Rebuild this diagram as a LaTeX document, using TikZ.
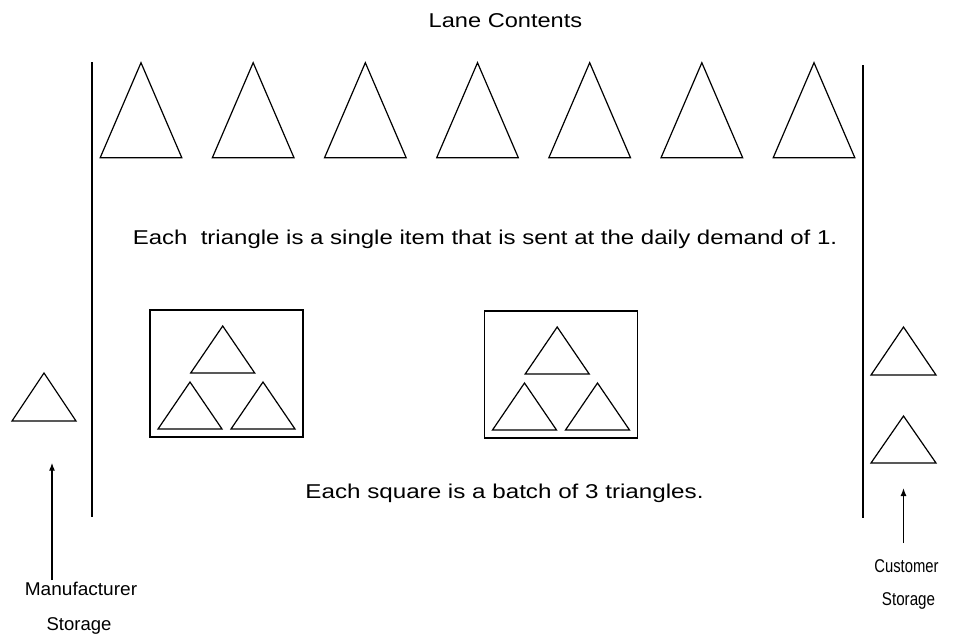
\documentclass[tikz,border=0pt]{standalone}
\usepackage{fontspec}
\setmainfont{Liberation Sans}
\usetikzlibrary{arrows.meta}
\newcommand{\lbl}[2]{\scalebox{#1}[1]{#2}}
\newcommand{\tri}[4]{\draw[shp] (#1-#3,#2+#4) -- (#1,#2) -- (#1+#3,#2+#4) -- cycle;}
\begin{document}
\begin{tikzpicture}[x=1pt,y=-1pt,
  shp/.style={line width=1.2pt,line join=miter},
  lane/.style={line width=1.4pt},
  txt/.style={anchor=base,inner sep=0pt,font=\fontsize{20}{24}\selectfont},
  small/.style={anchor=base,inner sep=0pt,font=\fontsize{18.5}{22}\selectfont},
  arr/.style={line width=1.2pt,-{Latex[length=8pt,width=6pt]}}]
\useasboundingbox (0,0) rectangle (959,637);
\fill[white] (0,0) rectangle (959,637);
% title
\node[txt] (title) at (505.5,27.5) {\lbl{1.18}{Lane Contents}};
% lane walls
\coordinate (lt) at (92,62); \coordinate (lb) at (92,517);
\coordinate (rt) at (863,65); \coordinate (rb) at (863,518);
\draw[lane] (lt) -- (lb);
\draw[lane] (rt) -- (rb);
% single items
\foreach \i in {0,...,6}{
  \pgfmathsetmacro{\ax}{141+112.17*\i}
  \tri{\ax}{62.7}{40.8}{95}
}
\node[txt] (single) at (485,244) {\lbl{1.20}{Each\ \ triangle is a single item that is sent at the daily demand of 1.}};
% batches
\foreach \dx/\dy in {0/0,334.5/1}{
  \begin{scope}[shift={(\dx,\dy)}]
    \draw[shp] (150,310) rectangle (303,437);
    \tri{222.7}{326}{32}{47}
    \tri{190}{382}{32}{47}
    \tri{263}{382}{32}{47}
  \end{scope}
}
\node[txt] (batch) at (504.5,498) {\lbl{1.21}{Each square is a batch of 3 triangles.}};
% manufacturer storage
\tri{44}{373}{32}{48}
\node[small] (mfg) at (81,595) {\lbl{1.03}{Manufacturer}};
\node[small] (mfgs) at (79,630.7) {\lbl{1.0}{Storage}};
\coordinate (mfgA) at (52,580); \coordinate (mfgT) at (52,462.7);
\draw[arr] (mfgA) -- (mfgT);
% customer storage
\tri{903.5}{327}{32.5}{48}
\tri{903.5}{416}{32.5}{47}
\node[small] (cus) at (906.5,572) {\lbl{0.80}{Customer}};
\node[small] (cuss) at (908.5,605.5) {\lbl{0.82}{Storage}};
\coordinate (cusA) at (903.5,543); \coordinate (cusT) at (903.5,488);
\draw[arr] (cusA) -- (cusT);
\end{tikzpicture}
\end{document}
